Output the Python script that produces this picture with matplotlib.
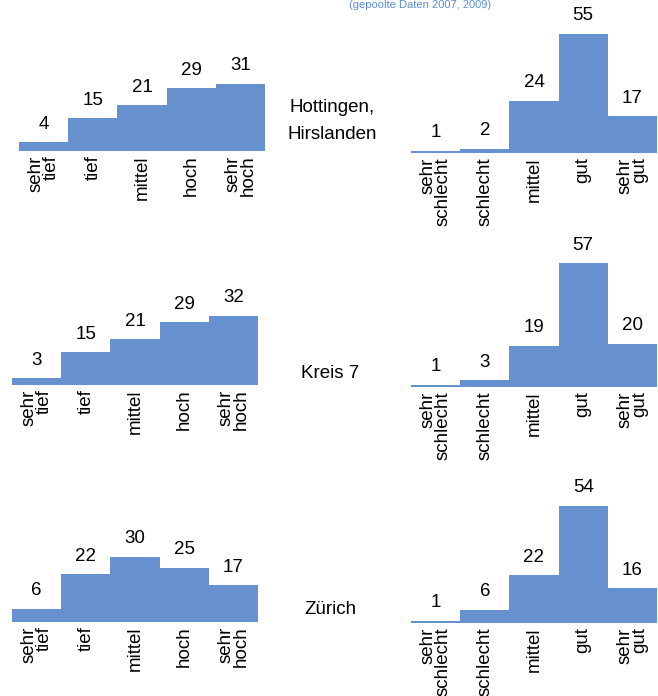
import matplotlib
matplotlib.use('Agg')
import matplotlib.pyplot as plt

plt.rcParams['font.family'] = ['Liberation Sans', 'DejaVu Sans']

W, H = 658, 696
BLUE = '#6690CE'
PX_PER_UNIT = 2.17

left_cats = ['sehr\ntief', 'tief', 'mittel', 'hoch', 'sehr\nhoch']
right_cats = ['sehr\nschlecht', 'schlecht', 'mittel', 'gut', 'sehr\ngut']

regions = ['Hottingen,\nHirslanden', 'Kreis 7', 'Zürich']
left_vals = [
    [4, 15, 21, 29, 31],
    [3, 15, 21, 29, 32],
    [6, 22, 30, 25, 17],
]
right_vals = [
    [1, 2, 24, 55, 17],
    [1, 3, 19, 57, 20],
    [1, 6, 22, 54, 16],
]

# pixel boxes: (x_left, x_right, baseline)
left_boxes = [(19, 265, 151), (12, 258, 385), (12, 258, 622)]
right_boxes = [(411, 657, 153), (411, 657, 387), (411, 657, 623)]
label_pos = [(332, 121), (330, 373), (330, 610)]

fig = plt.figure(figsize=(W / 100, H / 100), dpi=100)


def panel(box, cats, vals):
    x0, x1, base = box
    h = 140
    ax = fig.add_axes([x0 / W, (H - base) / H, (x1 - x0) / W, h / H])
    xs = range(len(vals))
    ax.bar(xs, vals, width=1.0, color=BLUE, linewidth=0)
    ax.set_xlim(-0.5, len(vals) - 0.5)
    ax.set_ylim(0, h / PX_PER_UNIT)
    ax.set_xticks(list(xs))
    ax.set_xticklabels(cats, rotation=90, fontsize=13.5, multialignment='right',
                       linespacing=0.88)
    ax.tick_params(axis='x', length=0, pad=3)
    ax.set_yticks([])
    for s in ax.spines.values():
        s.set_visible(False)
    for x, v in zip(xs, vals):
        ax.annotate(str(v), (x, v), xytext=(0, 13), textcoords='offset points',
                    ha='center', va='center', fontsize=13.5)
    ax.patch.set_alpha(0)
    return ax


for i in range(3):
    panel(left_boxes[i], left_cats, left_vals[i])
    panel(right_boxes[i], right_cats, right_vals[i])
    lx, ly = label_pos[i]
    fig.text(lx / W, 1 - ly / H, regions[i], ha='center', va='center',
             fontsize=13.5, linespacing=1.75)

fig.text(420 / W, 1.0, '(gepoolte Daten 2007, 2009)', ha='center',
         va='top', fontsize=8, color='#5B8ED8')

fig.savefig('out.png', dpi=100)
